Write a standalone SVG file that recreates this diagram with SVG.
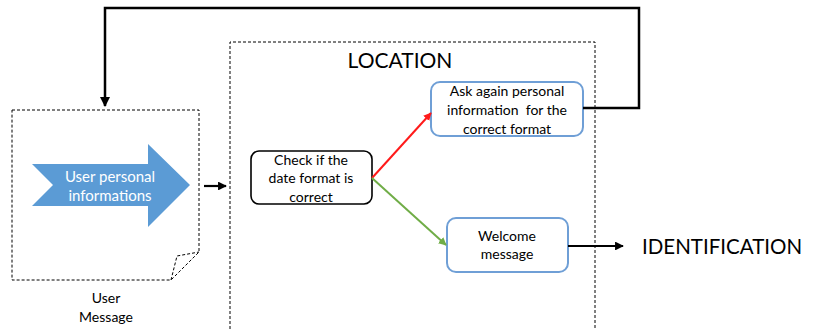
<svg xmlns="http://www.w3.org/2000/svg" width="816" height="329" viewBox="0 0 816 329">
  <style>
    text { font-family: Lato, "Open Sans", "Liberation Sans", sans-serif; fill: #000; }
    .dash { fill: none; stroke: #000; stroke-width: 1; stroke-dasharray: 3 2; }
    .blue { fill: #fff; stroke: #6f9fd6; stroke-width: 2; }
    .black { fill: #fff; stroke: #000; stroke-width: 1.6; }
    .lbl { font-size: 14px; text-anchor: middle; }
    .wire { fill: none; stroke: #000; stroke-width: 2.5; }
  </style>
  <defs>
    <marker id="ahBlack" viewBox="0 0 10 10" refX="9" refY="5" markerWidth="4" markerHeight="4" orient="auto" markerUnits="strokeWidth">
      <path d="M0,0 L10,5 L0,10 z" fill="#000"/>
    </marker>
    <marker id="ahRed" viewBox="0 0 10 10" refX="9" refY="5" markerWidth="4" markerHeight="4" orient="auto" markerUnits="strokeWidth">
      <path d="M0,0 L10,5 L0,10 z" fill="#ff1a1a"/>
    </marker>
    <marker id="ahGreen" viewBox="0 0 10 10" refX="9" refY="5" markerWidth="4" markerHeight="4" orient="auto" markerUnits="strokeWidth">
      <path d="M0,0 L10,5 L0,10 z" fill="#70ad47"/>
    </marker>
  </defs>

  <!-- User message document with folded corner -->
  <g id="user-message">
    <path class="dash" d="M12,110 L199,110 L199,252 L171,280 L12,280 Z"/>
    <path class="dash" d="M171,280 L177,256 L199,252"/>
    <path d="M32,164 L148,164 L148,144 L190,185 L148,227 L148,206 L32,206 L53,185 Z" fill="#5b9bd5"/>
    <text x="110" y="182" font-size="15" text-anchor="middle" style="fill:#fff">User personal</text>
    <text x="110" y="201" font-size="15" text-anchor="middle" style="fill:#fff">informations</text>
    <text x="106" y="303" class="lbl">User</text>
    <text x="106" y="322" class="lbl">Message</text>
  </g>

  <!-- Location container -->
  <g id="location">
    <path class="dash" d="M230,329 L230,42 L595,42 L595,329"/>
    <text x="400" y="68" font-size="21" text-anchor="middle">LOCATION</text>
  </g>

  <g id="check-format">
    <rect class="black" x="251" y="151" width="121" height="53" rx="8"/>
    <text class="lbl" x="311" y="165">Check if the</text>
    <text class="lbl" x="311" y="183">date format is</text>
    <text class="lbl" x="311" y="202">correct</text>
  </g>

  <g id="ask-again">
    <rect class="blue" x="431" y="82" width="152" height="54" rx="9"/>
    <text class="lbl" x="507" y="96">Ask again personal</text>
    <text class="lbl" x="507" y="115" xml:space="preserve">information  for the</text>
    <text class="lbl" x="507" y="134">correct format</text>
  </g>

  <g id="welcome">
    <rect class="blue" x="447" y="218" width="121" height="54" rx="9"/>
    <text class="lbl" x="507" y="241">Welcome</text>
    <text class="lbl" x="507" y="259">message</text>
  </g>

  <g id="identification">
    <text x="642" y="254" font-size="20.5">IDENTIFICATION</text>
  </g>

  <!-- Connectors -->
  <g id="connectors">
    <line x1="204" y1="186" x2="226" y2="186" stroke="#000" stroke-width="2.2" marker-end="url(#ahBlack)"/>
    <line x1="372" y1="178" x2="431" y2="113" stroke="#ff1a1a" stroke-width="2" marker-end="url(#ahRed)"/>
    <line x1="372" y1="178" x2="446" y2="245" stroke="#70ad47" stroke-width="2" marker-end="url(#ahGreen)"/>
    <path class="wire" d="M583,108 L639,108 L639,8 L105,8 L105,106" marker-end="url(#ahBlack)"/>
    <line x1="568" y1="246" x2="623" y2="246" stroke="#000" stroke-width="2.2" marker-end="url(#ahBlack)"/>
  </g>
</svg>
